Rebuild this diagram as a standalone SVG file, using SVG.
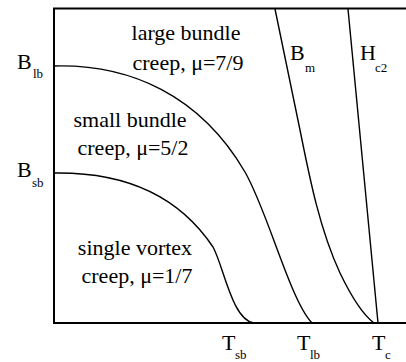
<svg xmlns="http://www.w3.org/2000/svg" width="406" height="362" viewBox="0 0 406 362">
<style>
text{font-family:"Liberation Serif","Times New Roman",serif;fill:#000}
.lbl{font-size:22px}
.sub{font-size:13px}
.reg{font-size:22px;text-anchor:middle}
.ax{fill:none;stroke:#000;stroke-width:2}
.cv{fill:none;stroke:#000;stroke-width:1.4}
</style>
<rect width="406" height="362" fill="#fff"/>
<g id="axes">
<path class="ax" d="M406,8.5 H54 V323 H406"/>
</g>
<g id="connectors">
<path id="curve-lb" class="cv" d="M54,66 C130,64 200,95 245,172 C268,212 290,300 312,323"/>
<path id="curve-sb" class="cv" d="M54,173 C115,172 175,190 213,247 C224,267 232,320 254,323"/>
<path id="curve-Bm" class="cv" d="M275,9 L300,130 C310,180 320,230 340,273 C352,298 362,314 374,323"/>
<path id="curve-Hc2" class="cv" d="M348,9 L378,323"/>
</g>
<g id="label-Blb"><text class="lbl" x="17" y="69">B</text><text class="sub" x="33" y="78">lb</text></g>
<g id="label-Bsb"><text class="lbl" x="17" y="177">B</text><text class="sub" x="32" y="187">sb</text></g>
<g id="label-Bm"><text class="lbl" x="290" y="60">B</text><text class="sub" x="305" y="72">m</text></g>
<g id="label-Hc2"><text class="lbl" x="360" y="60">H</text><text class="sub" x="375" y="72">c2</text></g>
<g id="label-Tsb"><text class="lbl" x="222" y="350">T</text><text class="sub" x="235" y="359">sb</text></g>
<g id="label-Tlb"><text class="lbl" x="297" y="350">T</text><text class="sub" x="310" y="359">lb</text></g>
<g id="label-Tc"><text class="lbl" x="372" y="350">T</text><text class="sub" x="385" y="359">c</text></g>
<g id="region-large"><text class="reg" x="186" y="40">large bundle</text><text class="reg" x="188" y="70">creep, μ=7/9</text></g>
<g id="region-small"><text class="reg" x="130" y="127">small bundle</text><text class="reg" x="133" y="155">creep, μ=5/2</text></g>
<g id="region-single"><text class="reg" x="135" y="255">single vortex</text><text class="reg" x="137" y="283">creep, μ=1/7</text></g>
</svg>
